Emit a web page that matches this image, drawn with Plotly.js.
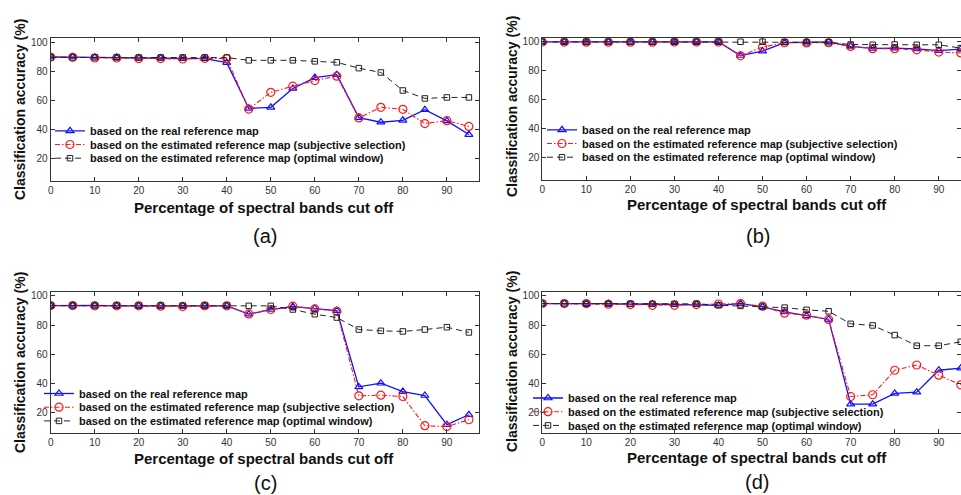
<!DOCTYPE html>
<html>
<head>
<meta charset="utf-8">
<script src="https://cdn.plot.ly/plotly-3.0.1.min.js"></script>
<style>
html,body{margin:0;padding:0;background:#fff;}
#chart{width:961px;height:495px;}
</style>
</head>
<body>
<div id="chart"></div>
<script>
// ---------------- data ----------------
const cutOff = [0,5,10,15,20,25,30,35,40,45,50,55,60,65,70,75,80,85,90,95];

const seriesNames = [
  "based on the real reference map",
  "based on the estimated reference map (subjective selection)",
  "based on the estimated reference map (optimal window)"
];

// (a)
const aReal    = [89.7,89.7,89.6,89.3,89.0,89.0,88.8,88.6,85.8,54.3,55.0,68.0,75.5,77.5,47.9,44.7,46.0,53.3,45.6,36.2];
const aSubj    = [89.7,89.5,89.0,89.0,88.6,88.6,88.3,88.8,88.6,53.8,65.3,69.6,73.4,76.5,47.7,55.0,53.6,43.8,45.8,41.8];
const aOptimal = [89.4,89.4,89.4,89.4,89.3,89.3,89.4,89.3,89.3,87.4,87.4,87.4,86.7,86.0,82.0,79.0,66.6,61.1,61.8,61.8];
// (b)
const bReal    = [99.9,99.9,99.8,99.8,99.8,99.8,99.9,99.9,99.9,90.5,93.6,99.4,99.9,99.9,96.8,95.4,95.6,95.1,93.9,94.9];
const bSubj    = [99.8,99.8,99.7,99.7,99.7,99.7,99.8,99.8,99.8,90.3,96.3,99.3,99.2,99.3,96.8,95.2,95.2,94.4,92.9,92.3];
const bOptimal = [100,100,100,100,100,100,100,100,100,100,100,99.8,99.6,99.6,98.1,97.9,98.1,97.9,97.9,95.6];
// (c)
const cReal    = [93.4,93.6,93.6,93.2,93.2,93.2,93.2,93.2,93.2,87.5,90.7,92.7,91.4,90.0,37.7,40.2,34.5,31.8,11.8,18.6];
const cSubj    = [93.4,93.4,93.2,93.2,93.2,93.0,92.7,93.2,93.2,87.7,90.7,93.0,91.1,89.5,31.6,32.0,31.1,11.1,10.5,15.2];
const cOptimal = [93.4,93.4,93.4,93.4,93.4,93.4,93.4,93.4,93.4,93.2,93.2,90.7,87.5,85.2,77.0,76.1,75.7,77.0,78.6,75.0];
// (d)
const dReal    = [94.8,95.0,94.8,94.8,94.3,94.5,94.3,94.3,93.6,94.8,92.5,89.1,86.4,83.9,25.9,25.9,33.2,34.1,49.1,50.5];
const dSubj    = [94.8,94.8,94.8,94.3,94.1,93.6,93.6,94.1,94.5,94.8,93.0,88.2,86.8,83.9,31.1,32.3,49.1,52.7,45.7,39.1];
const dOptimal = [94.8,94.8,94.6,94.6,94.6,94.6,94.6,94.6,93.6,93.2,92.7,92.0,90.5,89.5,80.9,79.8,73.2,65.9,65.9,68.6];

const xTickVals = [0,10,20,30,40,50,60,70,80,90];
const yTickVals = [20,40,60,80,100];
const xTitle = "Percentage of spectral bands cut off";
const yTitle = "Classification accuracy (%)";
const captions = ["(a)","(b)","(c)","(d)"];

// ---------------- layout helpers ----------------
const W = 961, H = 495;
const px = v => v / W;
const py = v => 1 - v / H;

const panels = [
  {real:aReal, subj:aSubj, opt:aOptimal, left:50.7, right:479, top:38, bottom:180.5, xr:[0,97.3], yr:[4.5,102.8],
   xt:[264,207], yt:[20,110], cap:[265,236], leg:[50,116.3]},
  {real:bReal, subj:bSubj, opt:bOptimal, left:542.3, right:961, top:37.7, bottom:180, xr:[0,95.05], yr:[4.6,102.8],
   xt:[757,204], yt:[512,107], cap:[758,236], leg:[542,115.3]},
  {real:cReal, subj:cSubj, opt:cOptimal, left:50.7, right:479, top:292.3, bottom:433.3, xr:[0,97.3], yr:[5.9,102.5],
   xt:[264,458], yt:[20,363], cap:[265,483], leg:[39,379]},
  {real:dReal, subj:dSubj, opt:dOptimal, left:542.3, right:961, top:292.3, bottom:433.3, xr:[0,95.05], yr:[5.9,102.5],
   xt:[757,457], yt:[512,362], cap:[757,482], leg:[528,383.5]}
];

const axisColor = "#333";
const tickFont = {family:"Liberation Sans, Arial, sans-serif", size:10, color:"#333"};
const data = [];
const layout = {
  width:W, height:H,
  margin:{l:0,r:0,t:0,b:0},
  paper_bgcolor:"#fff", plot_bgcolor:"#fff",
  showlegend:true,
  annotations:[]
};

panels.forEach((p,i) => {
  const n = i === 0 ? "" : String(i+1);
  const xa = "x"+n, ya = "y"+n;
  const legName = "legend"+n;
  const common = {x:cutOff, xaxis:xa, yaxis:ya, mode:"lines+markers", legend:legName, cliponaxis:true};
  data.push(Object.assign({}, common, {
    y:p.real, name:seriesNames[0],
    line:{color:"#1010ff", width:1.3, dash:"solid"},
    marker:{symbol:"triangle-up-open", size:7, color:"#1010ff", line:{width:1.2}}
  }));
  data.push(Object.assign({}, common, {
    y:p.subj, name:seriesNames[1],
    line:{color:"#ff1a1a", width:1.1, dash:"5px,2px,1.5px,2px"},
    marker:{symbol:"circle-open", size:8, color:"#ff1a1a", line:{width:1.2}}
  }));
  data.push(Object.assign({}, common, {
    y:p.opt, name:seriesNames[2],
    line:{color:"#222", width:1, dash:"6px,4px"},
    marker:{symbol:"square-open", size:5.5, color:"#222", line:{width:1}}
  }));

  layout["xaxis"+n] = {
    domain:[px(p.left), px(p.right)], anchor:ya, range:p.xr,
    tickmode:"array", tickvals:xTickVals, ticks:"inside", ticklen:4, tickcolor:axisColor,
    showline:true, linecolor:axisColor, linewidth:1, mirror:"ticks",
    showgrid:false, zeroline:false, tickfont:tickFont, fixedrange:true
  };
  layout["yaxis"+n] = {
    domain:[py(p.bottom), py(p.top)], anchor:xa, range:p.yr,
    tickmode:"array", tickvals:yTickVals, ticks:"inside", ticklen:4, tickcolor:axisColor,
    showline:true, linecolor:axisColor, linewidth:1, mirror:"ticks",
    showgrid:false, zeroline:false, tickfont:tickFont, fixedrange:true
  };
  layout[legName] = {
    x:px(p.leg[0]), y:py(p.leg[1]), xanchor:"left", yanchor:"top",
    bgcolor:"rgba(0,0,0,0)", borderwidth:0,
    font:{family:"Liberation Sans, Arial, sans-serif", size:11, color:"#111", weight:700},
    itemclick:false, itemdoubleclick:false
  };
  layout.annotations.push({
    xref:"paper", yref:"paper", x:px(p.xt[0]), y:py(p.xt[1]), xanchor:"center", yanchor:"middle",
    text:xTitle, showarrow:false, borderpad:0,
    font:{family:"Liberation Sans, Arial, sans-serif", size:15, color:"#111", weight:700}
  });
  layout.annotations.push({
    xref:"paper", yref:"paper", x:px(p.yt[0]), y:py(p.yt[1]), xanchor:"center", yanchor:"middle",
    text:yTitle, showarrow:false, textangle:-90,
    font:{family:"Liberation Sans, Arial, sans-serif", size:14, color:"#111", weight:700}
  });
  layout.annotations.push({
    xref:"paper", yref:"paper", x:px(p.cap[0]), y:py(p.cap[1]), xanchor:"center", yanchor:"middle",
    text:captions[i], showarrow:false,
    font:{family:"Liberation Sans, Arial, sans-serif", size:20, color:"#111"}
  });
});

Plotly.newPlot("chart", data, layout, {displayModeBar:false, staticPlot:true}).then(gd => {
  // tighten legend row spacing to match the compact MATLAB legend
  const ratio = 13.7 / 19;
  const groups = Array.from(gd.querySelectorAll("g")).filter(g => /^legend\d*$/.test(g.getAttribute("class") || ""));
  groups.forEach(leg => {
    const items = leg.querySelectorAll("g.traces");
    let y0 = null;
    items.forEach(it => {
      const tr = it.getAttribute("transform") || "";
      const m = tr.match(/translate\(\s*([-\d.]+)[ ,]+([-\d.]+)\s*\)/);
      if (!m) return;
      const x = parseFloat(m[1]), y = parseFloat(m[2]);
      if (y0 === null) y0 = y;
      it.setAttribute("transform", "translate(" + x + "," + (y0 + (y - y0) * ratio) + ")");
    });
  });
});
</script>
</body>
</html>
